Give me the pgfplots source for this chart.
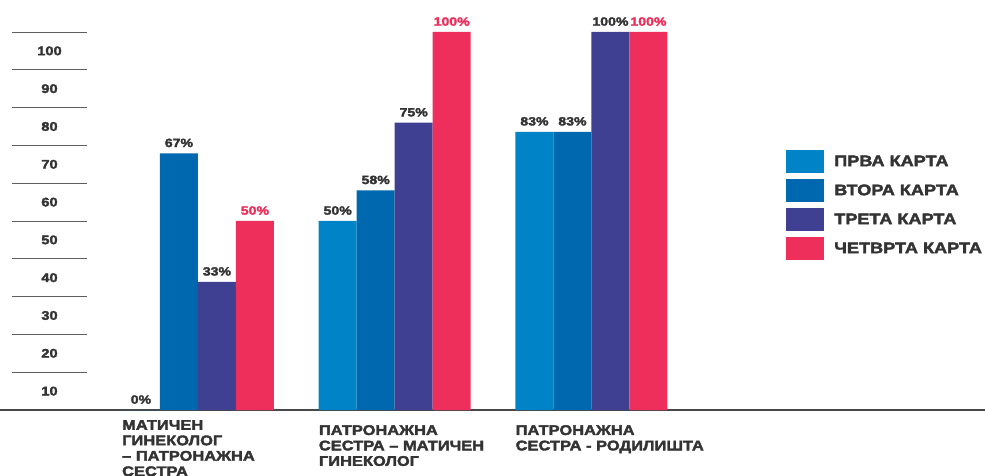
\documentclass[border=0pt]{standalone}
\usepackage{fontspec}
\setmainfont{Liberation Sans}[FakeStretch=1.18, BoldFeatures={FakeBold=2.5}]
\usepackage{pgfplots}
\pgfplotsset{compat=1.18}
\definecolor{prva}{RGB}{0,132,199}
\definecolor{vtora}{RGB}{0,104,175}
\definecolor{treta}{RGB}{63,64,146}
\definecolor{chetvrta}{RGB}{238,46,91}
\definecolor{txt}{RGB}{51,51,51}
\definecolor{axisgray}{RGB}{72,72,72}
\definecolor{linegray}{RGB}{95,95,95}
\newcommand{\fs}[1]{\bfseries\fontsize{#1}{#1}\selectfont}
\newcommand{\catfont}{\bfseries\fontsize{14}{15.5}\selectfont}

\pgfplotsset{
  swatch/.style={legend image code/.code={
      \fill[##1] (0bp,-11.5bp) rectangle (38bp,11.5bp);
      \path (48bp,0bp);}},
}

\begin{document}
\begin{tikzpicture}
  % scale column on the left
  \begin{axis}[
    at={(12bp,66bp)}, anchor=south west,
    scale only axis, width=75bp, height=378bp,
    xmin=0, xmax=1, ymin=0, ymax=100,
    axis line style={draw=none},
    xtick=\empty,
    ytick={5,15,...,95},
    yticklabels={10,20,30,40,50,60,70,80,90,100},
    major tick length=0pt,
    yticklabel style={anchor=center, xshift=37.5bp, font=\fs{12.5}, text=txt},
    extra y ticks={10,20,...,100},
    extra y tick labels={},
    extra y tick style={grid=major},
    major grid style={draw=linegray, line width=0.9bp},
  ]
  \end{axis}

  \begin{axis}[
    at={(0bp,66bp)}, anchor=south west,
    scale only axis, width=985bp, height=378bp,
    xmin=-1.006, xmax=4, ymin=0, ymax=100,
    ybar=0pt, bar width=38bp,
    hide y axis,
    axis x line*=bottom,
    x axis line style={-, draw=axisgray, line width=1.6bp},
    xtick=\empty,
    clip=false,
    point meta=explicit symbolic,
    nodes near coords={\pgfplotspointmeta},
    every node near coord/.append style={font=\fs{12}, text=txt, inner sep=0pt, yshift=6bp},
    legend style={at={(0.798,0.688)}, anchor=north west, draw=none, fill=none,
      inner sep=0pt, row sep=6bp, font=\fs{15.4}, text=txt,
      nodes={inner sep=0pt}},
    legend cell align=left,
  ]
    \addplot[fill=prva, draw=none, swatch] coordinates {(0,0)[0\%] (1,50)[50\%] (2,73.6)[83\%]};
    \addplot[fill=vtora, draw=none, swatch] coordinates {(0,67.9)[67\%] (1,58.1)[58\%] (2,73.6)[83\%]};
    \addplot[fill=treta, draw=none, swatch] coordinates {(0,33.9)[33\%] (1,76)[75\%] (2,100)[100\%]};
    \addplot[fill=chetvrta, draw=none, swatch, every node near coord/.append style={text=chetvrta}]
      coordinates {(0,50)[50\%] (1,100)[100\%] (2,100)[100\%]};
    \legend{ПРВА КАРТА, ВТОРА КАРТА, ТРЕТА КАРТА, ЧЕТВРТА КАРТА}

    \node[anchor=north west, align=left, inner sep=0pt, text=txt, font=\catfont,
      xshift=-76bp, yshift=-10bp] at (axis cs:0,0) {МАТИЧЕН\\ГИНЕКОЛОГ\\– ПАТРОНАЖНА\\СЕСТРА};
    \node[anchor=north west, align=left, inner sep=0pt, text=txt, font=\catfont,
      xshift=-76bp, yshift=-15bp] at (axis cs:1,0) {ПАТРОНАЖНА\\СЕСТРА – МАТИЧЕН\\ГИНЕКОЛОГ};
    \node[anchor=north west, align=left, inner sep=0pt, text=txt, font=\catfont,
      xshift=-76bp, yshift=-15bp] at (axis cs:2,0) {ПАТРОНАЖНА\\СЕСТРА - РОДИЛИШТА};
  \end{axis}
  \pgfresetboundingbox
  \path[use as bounding box] (0bp,0bp) rectangle (985bp,476bp);
\end{tikzpicture}
\end{document}
